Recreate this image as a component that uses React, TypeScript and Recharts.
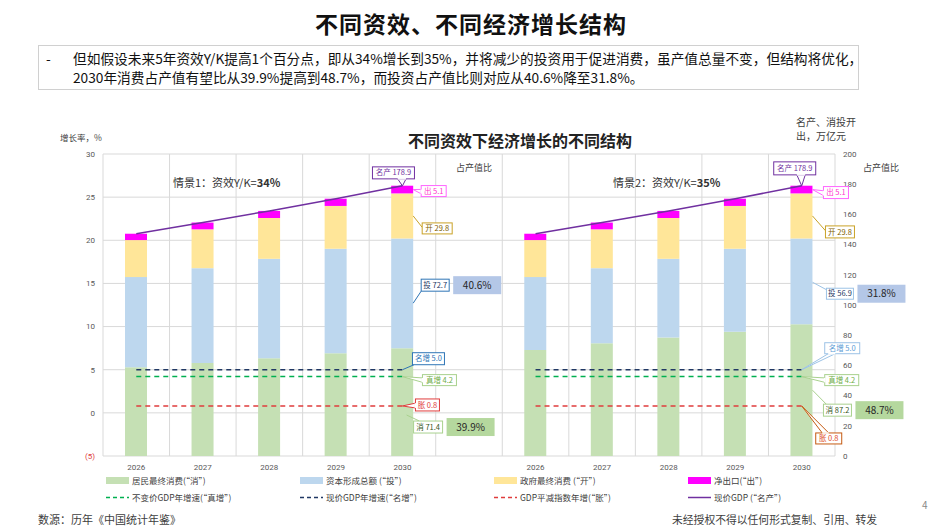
import React from "react";
import { Bar, CartesianGrid, ComposedChart, LabelList, Line, XAxis, YAxis } from "recharts";

const years = ["2026", "2027", "2028", "2029", "2030"];
// 情景1：资效Y/K=34%
const consA = [58.7, 61.6, 64.7, 68.0, 71.4];
const invA = [59.8, 62.8, 65.9, 69.2, 72.7];
// 情景2：资效Y/K=35%
const consB = [70.2, 74.6, 78.4, 82.3, 87.2];
const invB = [48.3, 49.8, 52.2, 54.9, 56.9];
// both scenarios
const gov = [24.5, 25.7, 27.0, 28.4, 29.8];
const net = [4.2, 4.5, 4.7, 4.8, 5.1];
const gdp = [147.2, 154.6, 162.3, 170.4, 178.9];
const nominalGrowth = [5.0, 5.0, 5.0, 5.0, 5.0];
const realGrowth = [4.2, 4.2, 4.2, 4.2, 4.2];
const deflator = [0.8, 0.8, 0.8, 0.8, 0.8];
const leftTicks = [-5, 0, 5, 10, 15, 20, 25, 30];
const rightTicks = [0, 20, 40, 60, 80, 100, 120, 140, 160, 180, 200];

const scenario = (cons: number[], inv: number[], tag: string) =>
  years.map((y, i) => ({
    slot: y + tag,
    cons: cons[i],
    inv: inv[i],
    gov: gov[i],
    net: net[i],
    gdp: gdp[i],
    nom: nominalGrowth[i],
    real: realGrowth[i],
    defl: deflator[i],
  }));

const data: any[] = [...scenario(consA, invA, "a"), { slot: "gap" }, ...scenario(consB, invB, "b")];
const gdpEnd = gdp[gdp.length - 1];

const CJK = '"Noto Sans CJK SC", "Noto Sans", sans-serif';
const C = {
  cons: "#c5e0b4",
  inv: "#bdd7ee",
  gov: "#ffe699",
  net: "#ff00ff",
  gdp: "#7030a0",
  real: "#00b050",
  nom: "#203864",
  defl: "#e03c3c",
  grid: "#d9d9d9",
  tick: "#595959",
};

type Pt = [number, number];
interface CalloutSpec {
  name: string;
  stroke: string;
  color: string;
  fx?: number;
  fy?: number;
  dx: number;
  dy: number;
  w: number;
  h: number;
  wedge?: [Pt, Pt];
  target?: Pt;
  pct?: string;
}

// bars skip the empty gap row, lines keep it
const BAR_ENDS = [4, 9];
const LINE_ENDS = [4, 10];

// callout boxes on the 2030 bar / point of each scenario
const makeCallout = (specs: [CalloutSpec, CalloutSpec], ends: number[]) => (props: any) => {
  const { index, value } = props;
  const side = ends.indexOf(index);
  if (side < 0 || value == null) return null;
  const s = specs[side];
  const vb = props.viewBox ?? {};
  const x0 = vb.x ?? props.x;
  const y0 = vb.y ?? props.y;
  const ax = x0 + (vb.width ?? 0) * (s.fx ?? 0);
  const ay = y0 + (vb.height ?? 0) * (s.fy ?? 0);
  const bx = ax + s.dx;
  const by = ay + s.dy;
  const pt = (p: Pt) => [bx + p[0] * s.w, by + p[1] * s.h];
  return (
    <g>
      {s.target && (() => {
        const [tx, ty] = pt(s.target!);
        return <line x1={ax} y1={ay} x2={tx} y2={ty} stroke={s.stroke} strokeWidth={1} />;
      })()}
      {s.wedge && (
        <polygon
          points={`${ax},${ay} ${pt(s.wedge[0]).join(",")} ${pt(s.wedge[1]).join(",")}`}
          fill="#fff"
          stroke={s.stroke}
          strokeWidth={1}
        />
      )}
      <rect x={bx} y={by} width={s.w} height={s.h} fill="#fff" stroke={s.stroke} strokeWidth={1} />
      {s.wedge && (
        <line
          x1={pt(s.wedge[0])[0]}
          y1={pt(s.wedge[0])[1]}
          x2={pt(s.wedge[1])[0]}
          y2={pt(s.wedge[1])[1]}
          stroke="#fff"
          strokeWidth={1.6}
        />
      )}
      <text
        x={bx + s.w / 2}
        y={by + s.h / 2}
        dy="0.35em"
        textAnchor="middle"
        fontSize={7.5}
        fontFamily={CJK}
        fill={s.color}
      >
        {s.name} {Number(value).toFixed(1)}
      </text>
      {s.pct && (
        <g>
          <rect x={bx + s.w + 4} y={by + s.h / 2 - 9} width={48} height={18} fill={s.pct} />
          <text
            x={bx + s.w + 28}
            y={by + s.h / 2}
            dy="0.35em"
            textAnchor="middle"
            fontSize={10}
            fontFamily={CJK}
            fill="#262626"
          >
            {((value / gdpEnd) * 100).toFixed(1)}%
          </text>
        </g>
      )}
    </g>
  );
};

const netCallout = makeCallout([
  { name: "出", stroke: "#ff66ff", color: "#ff33cc", fx: 1, fy: 0.5, dx: 8, dy: -4, w: 25, h: 11, wedge: [[0, 0.35], [0, 0.75]] },
  { name: "出", stroke: "#ff66ff", color: "#ff33cc", fx: 1, fy: 0.5, dx: 11, dy: -3, w: 25, h: 12, wedge: [[0, 0.35], [0, 0.75]] },
], BAR_ENDS);
const govCallout = makeCallout([
  { name: "开", stroke: "#c9a227", color: "#806000", fx: 1, fy: 0.5, dx: 9, dy: 7, w: 30, h: 11, target: [0, 0.4] },
  { name: "开", stroke: "#c9a227", color: "#806000", fx: 1, fy: 0.5, dx: 13, dy: 10, w: 29, h: 12, target: [0, 0.4] },
], BAR_ENDS);
const invCallout = makeCallout([
  { name: "投", stroke: "#2e75b6", color: "#1f3864", fx: 1, fy: 0.59, dx: 8, dy: -24, w: 28, h: 12, target: [0, 1], pct: "#b4c7e7" },
  { name: "投", stroke: "#9dc3e6", color: "#1f3864", fx: 1, fy: 0.51, dx: 14, dy: 6, w: 27, h: 11, target: [0.05, 0.2], pct: "#b4c7e7" },
], BAR_ENDS);
const consCallout = makeCallout([
  { name: "消", stroke: "#a9d18e", color: "#375623", fx: 0.7, fy: 0.62, dx: 7, dy: 6, w: 29, h: 12, target: [0.2, 0], pct: "#b5d89e" },
  { name: "消", stroke: "#a9d18e", color: "#375623", fx: 1, fy: 0.5, dx: 11, dy: 14, w: 28, h: 12, target: [0.1, 0], pct: "#b5d89e" },
], BAR_ENDS);
const gdpCallout = makeCallout([
  { name: "名产", stroke: "#7030a0", color: "#7030a0", dx: -30, dy: -19, w: 42, h: 12, wedge: [[0.6, 1], [0.8, 1]] },
  { name: "名产", stroke: "#7030a0", color: "#7030a0", dx: -28, dy: -24, w: 42, h: 13, wedge: [[0.55, 1], [0.75, 1]] },
], LINE_ENDS);
const nomCallout = makeCallout([
  { name: "名增", stroke: "#2e75b6", color: "#2e75b6", dx: 10, dy: -17, w: 32, h: 12, target: [0.05, 1] },
  { name: "名增", stroke: "#9dc3e6", color: "#5b9bd5", dx: 23, dy: -27, w: 35, h: 11, wedge: [[0.1, 1], [0.3, 1]] },
], LINE_ENDS);
const realCallout = makeCallout([
  { name: "真增", stroke: "#a9d18e", color: "#70ad47", dx: 20, dy: -2, w: 34, h: 11, wedge: [[0, 0.3], [0, 0.7]] },
  { name: "真增", stroke: "#a9d18e", color: "#70ad47", dx: 23, dy: -2, w: 34, h: 11, wedge: [[0, 0.3], [0, 0.7]] },
], LINE_ENDS);
const deflCallout = makeCallout([
  { name: "胀", stroke: "#e03c3c", color: "#e03c3c", dx: 13, dy: -7, w: 24, h: 12, wedge: [[0, 0.35], [0, 0.75]] },
  { name: "胀", stroke: "#c55a11", color: "#e0502a", dx: 14, dy: 27, w: 26, h: 11, wedge: [[0.25, 0], [0.5, 0]] },
], LINE_ENDS);

const LeftTick = (p: any) => {
  const v = p.payload.value;
  return (
    <text x={p.x} y={p.y} dy="0.35em" textAnchor="end" fontSize={8} fontFamily="Roboto, sans-serif" fill={v < 0 ? "#e03c3c" : C.tick}>
      {v < 0 ? `(${-v})` : v}
    </text>
  );
};

const legendRows = [
  [
    { label: "居民最终消费(“消”)", color: C.cons, kind: "box" },
    { label: "资本形成总额 (“投”)", color: C.inv, kind: "box" },
    { label: "政府最终消费 (“开”)", color: C.gov, kind: "box" },
    { label: "净出口(“出”)", color: C.net, kind: "box" },
  ],
  [
    { label: "不变价GDP年增速(“真增”)", color: C.real, kind: "dash" },
    { label: "现价GDP年增速(“名增”)", color: C.nom, kind: "dash" },
    { label: "GDP平减指数年增(“胀”)", color: C.defl, kind: "dash" },
    { label: "现价GDP (“名产”)", color: C.gdp, kind: "line" },
  ],
];

const abs = (left: number, top: number, extra: React.CSSProperties = {}): React.CSSProperties => ({
  position: "absolute",
  left,
  top,
  fontFamily: CJK,
  whiteSpace: "nowrap",
  ...extra,
});

export default function App() {
  return (
    <div style={{ position: "absolute", left: 0, top: 0, width: 942, height: 530, background: "#fff", overflow: "hidden" }}>
      <ComposedChart width={942} height={530} data={data} margin={{ top: 154, right: 0, bottom: 54, left: 0 }}>
        <CartesianGrid
          stroke={C.grid}
          verticalCoordinatesGenerator={({ offset }: any) =>
            Array.from({ length: data.length + 1 }, (_, i) => offset.left + (i * offset.width) / data.length)
          }
        />
        <XAxis
          dataKey="slot"
          axisLine={false}
          tickLine={false}
          interval={0}
          height={20}
          tick={{ fontSize: 8, fill: C.tick, fontFamily: "Roboto, sans-serif" }}
          tickFormatter={(v: string) => (v === "gap" ? "" : v.slice(0, 4))}
        />
        <YAxis domain={[-5, 30]} ticks={leftTicks} width={103} axisLine={false} tickLine={false} tick={<LeftTick />} />
        <YAxis
          yAxisId="right"
          orientation="right"
          domain={[0, 200]}
          ticks={rightTicks}
          width={107}
          axisLine={false}
          tickLine={false}
          tick={{ fontSize: 8, fill: C.tick, fontFamily: "Roboto, sans-serif", textAnchor: "start" }}
        />
        <Bar dataKey="cons" stackId="s" yAxisId="right" fill={C.cons} barSize={22} isAnimationActive={false}>
          <LabelList dataKey="cons" content={consCallout} />
        </Bar>
        <Bar dataKey="inv" stackId="s" yAxisId="right" fill={C.inv} barSize={22} isAnimationActive={false}>
          <LabelList dataKey="inv" content={invCallout} />
        </Bar>
        <Bar dataKey="gov" stackId="s" yAxisId="right" fill={C.gov} barSize={22} isAnimationActive={false}>
          <LabelList dataKey="gov" content={govCallout} />
        </Bar>
        <Bar dataKey="net" stackId="s" yAxisId="right" fill={C.net} barSize={22} isAnimationActive={false}>
          <LabelList dataKey="net" content={netCallout} />
        </Bar>
        <Line dataKey="gdp" yAxisId="right" stroke={C.gdp} strokeWidth={1.5} dot={false} isAnimationActive={false}>
          <LabelList dataKey="gdp" content={gdpCallout} />
        </Line>
        <Line dataKey="defl" stroke={C.defl} strokeWidth={1.5} strokeDasharray="5 4" dot={false} isAnimationActive={false}>
          <LabelList dataKey="defl" content={deflCallout} />
        </Line>
        <Line dataKey="real" stroke={C.real} strokeWidth={1.5} strokeDasharray="5 4" dot={false} isAnimationActive={false}>
          <LabelList dataKey="real" content={realCallout} />
        </Line>
        <Line dataKey="nom" stroke={C.nom} strokeWidth={1.5} strokeDasharray="5 4" dot={false} isAnimationActive={false}>
          <LabelList dataKey="nom" content={nomCallout} />
        </Line>
      </ComposedChart>

      {/* page header */}
      <div style={abs(0, 6, { width: 942, textAlign: "center", fontSize: 23, fontWeight: 700, color: "#111", letterSpacing: 1 })}>
        不同资效、不同经济增长结构
      </div>
      <div style={{ position: "absolute", left: 38, top: 45, width: 819, height: 43, border: "1px solid #d0d0d0" }} />
      <div style={abs(46, 49, { fontSize: 13.7, lineHeight: "19px", color: "#111" })}>-</div>
      <div style={abs(73, 49, { fontSize: 13.7, lineHeight: "19px", color: "#111" })}>
        但如假设未来5年资效Y/K提高1个百分点，即从34%增长到35%，并将减少的投资用于促进消费，虽产值总量不变，但结构将优化，
        <br />
        2030年消费占产值有望比从39.9%提高到48.7%，而投资占产值比则对应从40.6%降至31.8%。
      </div>

      {/* chart texts */}
      <div style={abs(0, 128, { width: 1040, textAlign: "center", fontSize: 16, fontWeight: 700, color: "#222" })}>
        不同资效下经济增长的不同结构
      </div>
      <div style={abs(60, 131, { fontSize: 8.5, color: "#404040" })}>增长率，%</div>
      <div style={abs(796, 116, { fontSize: 10, lineHeight: "12px", color: "#404040" })}>名产、消投开</div>
      <div style={abs(796, 130, { fontSize: 10, lineHeight: "12px", color: "#404040" })}>出，万亿元</div>
      <div style={abs(456, 161, { fontSize: 9, color: "#404040" })}>占产值比</div>
      <div style={abs(863, 161, { fontSize: 9, color: "#404040" })}>占产值比</div>
      <div style={abs(173, 174, { fontSize: 11, color: "#333" })}>
        情景1：资效Y/K=<b>34%</b>
      </div>
      <div style={abs(613, 174, { fontSize: 11, color: "#333" })}>
        情景2：资效Y/K=<b>35%</b>
      </div>

      {/* legend */}
      {legendRows.map((row, r) =>
        row.map((it, c) => (
          <div key={`${r}-${c}`} style={abs(106 + c * 194, 474 + r * 17, { display: "flex", alignItems: "center", fontSize: 8.5, color: "#404040" })}>
            {it.kind === "box" ? (
              <span style={{ display: "inline-block", width: 23, height: 7, background: it.color, marginRight: 3 }} />
            ) : (
              <svg width={23} height={7} style={{ marginRight: 3 }}>
                <line
                  x1={0}
                  y1={3.5}
                  x2={23}
                  y2={3.5}
                  stroke={it.color}
                  strokeWidth={1.5}
                  strokeDasharray={it.kind === "dash" ? "4 3" : undefined}
                />
              </svg>
            )}
            {it.label}
          </div>
        ))
      )}

      {/* footer */}
      <div style={abs(38, 511, { fontSize: 11, color: "#404040" })}>数源：历年《中国统计年鉴》</div>
      <div style={abs(672, 511, { fontSize: 10.8, color: "#404040" })}>未经授权不得以任何形式复制、引用、转发</div>
      <div style={abs(922, 497, { fontSize: 10, color: "#888" })}>4</div>
    </div>
  );
}
